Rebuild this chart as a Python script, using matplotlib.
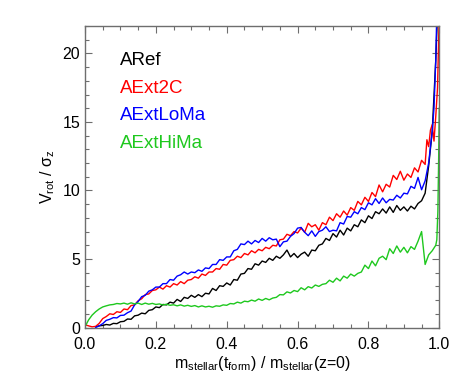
import numpy as np
import matplotlib
matplotlib.use('Agg')
import matplotlib.pyplot as plt
import matplotlib.transforms as mtransforms
from matplotlib.ticker import MultipleLocator

plt.rcParams['font.family'] = ['Liberation Sans', 'DejaVu Sans']
plt.rcParams['mathtext.fontset'] = 'custom'
plt.rcParams['mathtext.rm'] = 'Liberation Sans'
plt.rcParams['mathtext.it'] = 'Liberation Sans:italic'

# x grid: fraction of final stellar mass, 0.00 .. 0.96 in steps of 0.01
frac = np.round(np.arange(0, 0.965, 0.01), 2)

aref = [np.nan, np.nan, np.nan, 0.05, 0.12, 0.15, 0.22, 0.18, 0.30, 0.28,
        0.42, 0.45, 0.62, 0.60, 0.85, 0.90, 1.05, 1.00, 1.25, 1.30,
        1.50, 1.45, 1.68, 1.65, 1.85, 1.78, 2.05, 1.90, 2.20, 2.12,
        2.35, 2.20, 2.40, 2.25, 2.50, 2.45, 2.85, 2.70, 3.05, 3.00,
        3.25, 3.10, 3.50, 3.45, 3.90, 3.95, 4.30, 4.25, 4.65, 4.55,
        4.85, 4.75, 5.05, 4.90, 5.20, 5.05, 5.30, 5.65, 5.15, 5.40,
        5.10, 5.35, 5.50, 5.20, 5.65, 5.60, 6.00, 6.10, 6.50, 6.35,
        6.85, 6.60, 7.10, 6.75, 7.25, 7.05, 7.50, 7.35, 7.85, 7.65,
        8.15, 7.95, 8.45, 8.30, 8.65, 8.35, 8.80, 8.40, 8.90, 8.55,
        8.80, 8.50, 8.85, 8.65, 9.05, 9.25, 9.80]
aref_tail_x = [0.965, 0.97, 0.98, 0.99, 0.995]
aref_tail_y = [10.8, 11.8, 14.3, 19.5, 23.0]

aext2c = [0.20, 0.12, 0.05, 0.08, 0.30, 0.65, 0.80, 1.00, 0.95, 1.15,
          1.10, 1.35, 1.30, 1.60, 1.65, 1.95, 2.10, 2.40, 2.45, 2.70,
          2.75, 2.95, 2.80, 3.05, 2.95, 3.20, 3.10, 3.35, 3.20, 3.45,
          3.50, 3.70, 3.60, 3.90, 3.80, 4.05, 4.05, 4.30, 4.25, 4.60,
          4.55, 4.90, 4.95, 5.20, 5.10, 5.40, 5.30, 5.60, 5.45, 5.70,
          5.60, 5.85, 5.75, 6.00, 5.95, 6.40, 6.45, 6.80, 6.70, 7.00,
          6.90, 7.25, 6.95, 7.60, 7.35, 7.50, 7.10, 7.65, 7.50, 8.05,
          7.80, 8.30, 8.05, 8.50, 8.20, 8.75, 8.55, 9.20, 8.95, 9.50,
          9.20, 9.85, 9.55, 10.40, 9.90, 10.45, 10.25, 11.10, 10.80, 11.40,
          10.75, 11.20, 10.95, 11.65, 11.35, 12.20, 11.90]
aext2c_tail_x = [0.965, 0.97, 0.975, 0.98, 0.985, 0.99, 0.995, 1.0]
aext2c_tail_y = [13.7, 13.2, 14.4, 14.8, 13.6, 15.4, 17.5, 23.0]

aextloma = [np.nan, np.nan, np.nan, 0.00, 0.12, 0.28, 0.52, 0.60, 0.72, 0.70,
            0.88, 0.90, 1.08, 1.20, 1.65, 1.90, 2.25, 2.35, 2.65, 2.75,
            2.95, 2.95, 3.20, 3.20, 3.50, 3.45, 3.75, 3.85, 4.05, 3.90,
            4.05, 4.00, 4.20, 4.10, 4.35, 4.30, 4.60, 4.60, 4.95, 4.90,
            5.15, 5.15, 5.60, 5.70, 6.10, 6.05, 6.30, 6.10, 6.35, 6.20,
            6.50, 6.30, 6.55, 6.40, 6.45, 5.90, 6.25, 6.30, 6.65, 6.85,
            7.25, 7.30, 6.95, 6.70, 7.05, 6.65, 7.00, 7.10, 7.35, 7.00,
            7.10, 7.05, 7.65, 7.55, 8.10, 8.05, 8.45, 8.30, 8.75, 8.60,
            9.10, 8.95, 9.40, 9.05, 9.45, 9.10, 9.35, 9.30, 9.65, 9.45,
            9.80, 9.75, 10.30, 10.15, 10.95, 10.05, 10.70]
aextloma_tail_x = [0.97, 0.975, 0.98, 0.985, 0.99, 0.993]
aextloma_tail_y = [12.0, 13.2, 14.3, 16.0, 19.5, 23.0]

aexthima = [0.05, 0.55, 0.90, 1.15, 1.35, 1.50, 1.58, 1.65, 1.68, 1.75,
            1.72, 1.78, 1.70, 1.80, 1.72, 1.78, 1.68, 1.78, 1.70, 1.76,
            1.68, 1.72, 1.64, 1.70, 1.62, 1.66, 1.58, 1.65, 1.56, 1.62,
            1.54, 1.60, 1.50, 1.58, 1.50, 1.55, 1.48, 1.58, 1.55, 1.65,
            1.62, 1.75, 1.72, 1.85, 1.78, 1.92, 1.88, 2.00, 1.92, 2.08,
            1.98, 2.12, 2.02, 2.15, 2.20, 2.40, 2.38, 2.60, 2.52, 2.70,
            2.62, 2.90, 2.75, 2.98, 2.88, 3.10, 3.00, 3.15, 3.20, 3.45,
            3.30, 3.60, 3.40, 3.75, 3.60, 3.90, 3.75, 3.95, 4.05, 4.55,
            4.30, 4.85, 4.50, 5.05, 5.20, 4.95, 5.75, 5.40, 5.95, 5.50,
            5.85, 5.45, 5.90, 5.70, 6.30, 7.00, 4.60]
aexthima_tail_x = [0.97, 0.98, 0.99, 0.993, 0.996, 0.998, 1.0]
aexthima_tail_y = [5.30, 5.60, 6.00, 6.40, 8.50, 12.0, 16.0]

names = ['ARef', 'AExt2C', 'AExtLoMa', 'AExtHiMa']
colors = ['black', '#ff0000', '#0000ff', '#1ec81e']
series = [(aref, aref_tail_x, aref_tail_y),
          (aext2c, aext2c_tail_x, aext2c_tail_y),
          (aextloma, aextloma_tail_x, aextloma_tail_y),
          (aexthima, aexthima_tail_x, aexthima_tail_y)]

fig = plt.figure(figsize=(4.63, 3.82), dpi=100)
ax = fig.add_axes([85/463, 1-327.5/382, 354.3/463, 301.5/382])

for (yv, tx, ty), c in zip(series, colors):
    xx = np.concatenate([frac, tx])
    yy = np.concatenate([yv, ty])
    ax.plot(xx, yy, '-', color=c, lw=1.0)

ax.set_xlim(0, 1)
ax.set_ylim(0, 22)
ax.xaxis.set_major_locator(MultipleLocator(0.2))
ax.xaxis.set_minor_locator(MultipleLocator(0.05))
ax.yaxis.set_major_locator(MultipleLocator(5))
ax.yaxis.set_minor_locator(MultipleLocator(1))
ax.set_xticklabels(['%.1f' % v for v in ax.get_xticks()])

gc = '#6e6e6e'
for s in ax.spines.values():
    s.set_color(gc)
    s.set_linewidth(1.0)
ax.tick_params(which='both', direction='in', top=True, right=True, color=gc, labelsize=11.5)
ax.tick_params(which='major', length=5, width=0.8)
ax.tick_params(which='minor', length=2.6, width=0.8)
ax.tick_params(axis='x', pad=7)
ax.tick_params(axis='y', pad=3.5)

# raise the "0" label a bit, as in the original
lab = ax.yaxis.get_major_ticks()[0].label1
lab.set_transform(lab.get_transform() + mtransforms.ScaledTranslation(0, 5/72, fig.dpi_scale_trans))

ax.set_xlabel(r'm$_{\rm stellar}$(t$_{\rm form}$) / m$_{\rm stellar}$(z=0)', fontsize=11.5, labelpad=1)
ax.set_ylabel(u'V$_{\\rm rot}$ / σ$_{\\rm z}$', fontsize=11.5, labelpad=4)

ypos = [0.884, 0.793, 0.702, 0.611]
for n, c, yp in zip(names, colors, ypos):
    ax.text(0.10, yp, n, color=c, fontsize=13.5, ha='left', va='center', transform=ax.transAxes)

fig.savefig('out.png', dpi=100)
